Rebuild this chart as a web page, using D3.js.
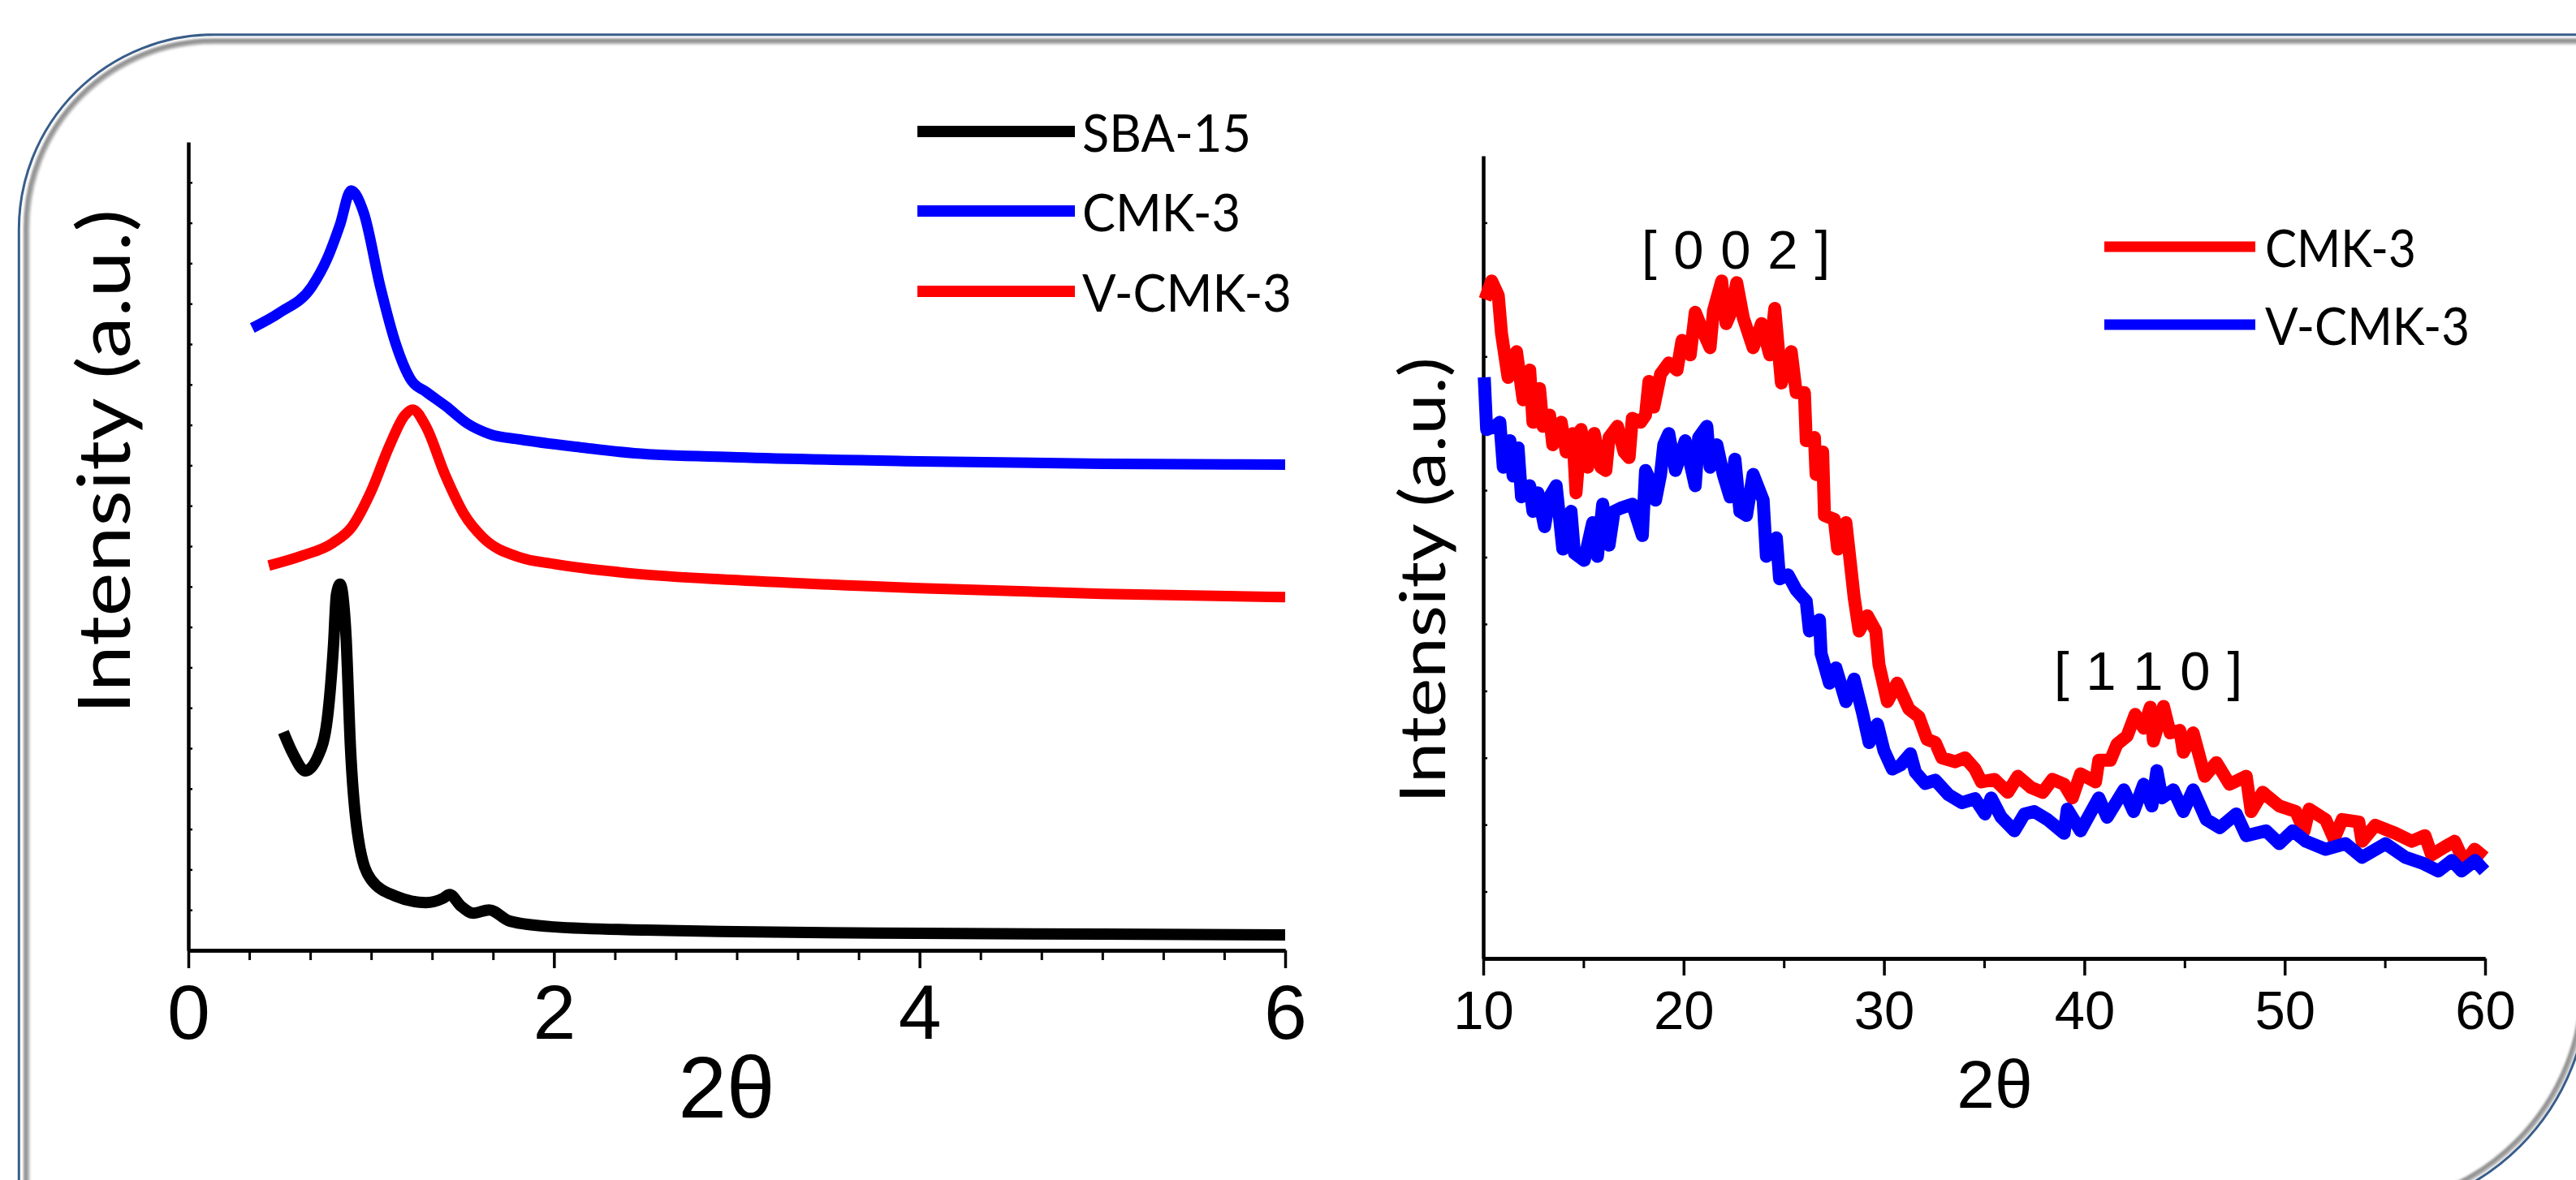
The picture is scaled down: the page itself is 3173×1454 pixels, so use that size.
<!DOCTYPE html>
<html><head><meta charset="utf-8">
<script src="https://cdn.jsdelivr.net/npm/d3@7"></script>
<style>
html,body{margin:0;padding:0;background:#fff;}
svg{display:block;}
</style></head><body>
<svg id="chart" width="3173" height="1454"></svg>
<script>
// ---------------- DATA ----------------
// Left panel (low-angle XRD)
const leftSeries = ["SBA-15", "CMK-3", "V-CMK-3"];
const leftColors = ["#000000", "#0000ff", "#ff0000"];
const leftXTicks = [0, 2, 4, 6];

const sbaX = [0.52, 0.573, 0.64, 0.709, 0.76, 0.794, 0.81, 0.83, 0.862, 0.887, 0.93, 0.998, 1.134, 1.30, 1.39, 1.43, 1.49, 1.56, 1.645, 1.76, 2.0, 2.5, 3.0, 4.0, 5.0, 6.0];
const sbaY = [27.0, 24.3, 22.2, 24.0, 28.6, 37.7, 44.0, 45.3, 39.1, 25.0, 13.8, 8.8, 6.7, 5.9, 6.4, 6.9, 5.5, 4.6, 5.0, 3.6, 2.9, 2.5, 2.3, 2.1, 2.0, 1.9];

const cmkLowX = [0.35, 0.50, 0.675, 0.76, 0.83, 0.89, 0.96, 1.05, 1.135, 1.22, 1.30, 1.41, 1.525, 1.645, 1.815, 2.155, 2.44, 3.0, 4.0, 5.0, 6.0];
const cmkLowY = [77.0, 78.9, 82.1, 85.6, 89.8, 94.0, 91.2, 82.1, 75.0, 70.5, 69.1, 67.3, 65.2, 63.9, 63.2, 62.2, 61.5, 61.0, 60.5, 60.2, 60.1];

const vcmkLowX = [0.44, 0.62, 0.79, 0.895, 0.998, 1.10, 1.184, 1.227, 1.30, 1.405, 1.51, 1.61, 1.815, 2.0, 2.44, 3.0, 4.0, 5.0, 6.0];
const vcmkLowY = [47.6, 48.8, 50.4, 52.4, 56.7, 62.4, 66.2, 66.9, 64.8, 58.8, 53.9, 51.1, 48.6, 47.8, 46.6, 45.8, 44.8, 44.1, 43.7];

// Right panel (wide-angle XRD)
const rightSeries = ["CMK-3", "V-CMK-3"];
const rightColors = ["#ff0000", "#0000ff"];
const rightXTicks = [10, 20, 30, 40, 50, 60];
const peakLabels = ["[ 0 0 2 ]", "[ 1 1 0 ]"];

const cmkWideX = [10.09, 10.42, 10.75, 10.91, 11.24, 11.66, 11.99, 12.32, 12.48, 12.81, 12.98, 13.31, 13.47, 13.89, 14.14, 14.47, 14.63, 14.88, 15.21, 15.54, 15.87, 16.12, 16.28, 16.70, 17.03, 17.28, 17.44, 17.85, 18.10, 18.27, 18.51, 18.85, 19.26, 19.67, 19.92, 20.33, 20.58, 21.00, 21.32, 21.49, 21.90, 22.12, 22.40, 22.65, 22.98, 23.47, 23.89, 24.30, 24.55, 24.88, 25.37, 25.62, 26.03, 26.12, 26.53, 26.61, 26.94, 27.03, 27.52, 27.69, 28.10, 28.51, 28.76, 29.17, 29.59, 29.75, 30.17, 30.66, 31.24, 31.74, 32.15, 32.56, 32.89, 33.55, 34.05, 34.54, 34.86, 35.52, 36.18, 36.68, 37.34, 37.92, 38.41, 38.99, 39.40, 39.81, 40.56, 40.72, 41.30, 41.63, 42.13, 42.54, 42.96, 43.29, 43.45, 43.95, 44.28, 44.77, 44.94, 45.43, 46.01, 46.59, 47.25, 48.08, 48.33, 48.90, 49.73, 50.56, 50.97, 51.22, 52.04, 52.46, 52.87, 53.70, 53.86, 54.52, 55.52, 56.34, 57.00, 57.33, 57.99, 58.48, 58.98, 59.48, 59.97];
const cmkWideY = [82.1, 84.4, 82.6, 77.9, 72.4, 75.6, 69.6, 73.3, 66.8, 71.0, 66.3, 67.7, 64.0, 66.8, 63.1, 65.4, 58.0, 65.9, 61.2, 65.4, 61.2, 60.8, 64.9, 66.3, 63.1, 62.4, 67.3, 66.8, 67.7, 71.9, 68.7, 72.8, 74.2, 73.3, 77.0, 75.2, 80.5, 77.9, 76.1, 80.7, 84.4, 79.1, 80.7, 84.2, 79.8, 76.1, 79.1, 75.2, 81.0, 71.7, 75.6, 70.5, 70.5, 64.5, 64.9, 60.3, 63.1, 55.2, 54.7, 51.0, 54.3, 45.0, 40.8, 42.7, 40.8, 36.6, 32.0, 34.3, 31.1, 30.1, 27.3, 26.9, 25.0, 24.5, 25.0, 23.6, 22.0, 22.3, 20.7, 22.7, 21.3, 20.7, 22.3, 21.7, 20.0, 23.0, 22.0, 24.7, 24.7, 26.7, 27.7, 30.4, 28.7, 31.3, 27.1, 31.4, 28.1, 28.4, 25.7, 28.1, 22.7, 24.4, 21.7, 22.7, 18.3, 20.7, 19.0, 18.3, 15.9, 18.6, 17.3, 14.9, 17.3, 17.0, 14.6, 16.6, 15.6, 14.6, 15.3, 12.9, 13.9, 14.6, 11.9, 13.6, 12.6];

const vcmkWideX = [10.05, 10.17, 10.58, 10.83, 11.00, 11.33, 11.49, 11.74, 11.91, 12.32, 12.48, 12.73, 13.06, 13.31, 13.64, 13.97, 14.38, 14.55, 15.04, 15.46, 15.70, 15.96, 16.28, 16.53, 16.86, 17.44, 17.94, 18.10, 18.35, 18.60, 18.85, 19.01, 19.26, 19.59, 20.08, 20.58, 20.75, 21.16, 21.32, 21.66, 21.98, 22.32, 22.56, 22.81, 23.14, 23.47, 23.97, 24.13, 24.63, 24.79, 25.21, 25.62, 26.12, 26.28, 26.78, 26.86, 27.28, 27.60, 28.10, 28.51, 28.93, 29.26, 29.67, 30.00, 30.42, 30.83, 31.32, 31.57, 32.06, 32.56, 33.22, 33.89, 34.54, 35.04, 35.35, 35.85, 36.51, 37.01, 37.50, 38.16, 38.99, 39.15, 39.81, 40.72, 41.14, 41.97, 42.46, 42.96, 43.37, 43.62, 43.87, 44.44, 44.94, 45.43, 46.09, 46.76, 47.58, 48.08, 49.07, 49.73, 50.40, 51.06, 52.04, 53.04, 53.86, 55.03, 56.02, 56.85, 57.67, 58.34, 58.83, 59.50, 59.97];
const vcmkWideY = [72.4, 65.9, 66.3, 66.8, 61.2, 64.5, 60.1, 63.6, 57.5, 58.9, 55.7, 58.0, 53.8, 57.5, 58.9, 51.0, 55.7, 50.5, 49.6, 54.3, 50.1, 56.6, 51.5, 55.7, 56.1, 56.6, 52.7, 60.8, 59.4, 57.1, 60.3, 64.0, 65.4, 60.8, 64.5, 58.9, 64.9, 66.3, 61.2, 64.0, 60.3, 57.5, 62.2, 55.7, 55.2, 60.3, 57.1, 50.1, 52.4, 47.3, 47.8, 45.9, 44.5, 40.8, 42.2, 38.0, 34.3, 36.2, 32.0, 34.8, 30.6, 26.9, 29.2, 25.9, 23.6, 24.1, 25.5, 23.2, 21.8, 22.2, 20.4, 19.4, 19.9, 18.0, 20.0, 17.6, 15.9, 18.0, 18.3, 17.3, 15.6, 18.6, 15.9, 20.0, 17.6, 21.0, 18.3, 21.7, 19.0, 23.4, 20.0, 21.0, 18.3, 21.0, 17.3, 16.3, 18.0, 15.3, 15.9, 14.3, 15.9, 14.6, 13.6, 14.3, 12.6, 14.3, 12.6, 11.9, 10.9, 12.2, 10.9, 12.2, 10.9];

// ---------------- DRAWING ----------------
const svg = d3.select("#chart");
const defs = svg.append("defs");
defs.append("filter").attr("id", "soft").attr("x", "-5%").attr("y", "-5%").attr("width", "110%").attr("height", "110%")
  .append("feGaussianBlur").attr("stdDeviation", 1.6);

function framePath(l, t, r, b, r1, r2) {
  return `M${l},${b} L${l},${t + r1} A${r1},${r1} 0 0 1 ${l + r1},${t} L${r},${t} L${r},${b - r2} A${r2},${r2} 0 0 1 ${r - r2},${b} Z`;
}
svg.append("path").attr("d", framePath(33, 51, 3183, 1489, 230, 281))
  .attr("fill", "none").attr("stroke", "#b5b5b5").attr("stroke-width", 7).attr("filter", "url(#soft)");
svg.append("path").attr("d", framePath(31.5, 50, 3181, 1488, 231, 279))
  .attr("fill", "none").attr("stroke", "#8a8a8a").attr("stroke-width", 3.5).attr("filter", "url(#soft)");
svg.append("path").attr("d", framePath(23.3, 42.7, 3188, 1496, 240, 286))
  .attr("fill", "none").attr("stroke", "#385d8a").attr("stroke-width", 3);

const FONT_ARIAL = "'Liberation Sans', Arial, sans-serif";
const FONT_CAL = "Lato, 'Open Sans', sans-serif";

function styleAxis(g, domainW, tickW) {
  g.attr("font-family", FONT_ARIAL).attr("font-size", null);
  g.select(".domain").attr("stroke", "#000").attr("stroke-width", domainW);
  g.selectAll(".tick line").attr("stroke", "#000").attr("stroke-width", tickW);
}

// ---- Left panel ----
const xL = d3.scaleLinear().domain([0, 6]).range([232, 1583]);
const yL = d3.scaleLinear().domain([0, 100]).range([1171, 175]);

const gyL = svg.append("g").attr("transform", "translate(232,0)")
  .call(d3.axisRight(yL).tickValues(d3.range(5, 100, 5)).tickSize(5).tickSizeOuter(0).tickFormat(""));
styleAxis(gyL, 4.5, 2.5);

const minorL = d3.range(0, 19).map(i => i * 6 / 18).filter(v => Math.abs(v / 2 - Math.round(v / 2)) > 1e-6);
const gxLm = svg.append("g").attr("transform", "translate(0,1171)")
  .call(d3.axisBottom(xL).tickValues(minorL).tickSize(12).tickSizeOuter(0).tickFormat(""));
styleAxis(gxLm, 4.5, 3);
const gxL = svg.append("g").attr("transform", "translate(0,1171)")
  .call(d3.axisBottom(xL).tickValues(leftXTicks).tickSize(22).tickSizeOuter(0).tickFormat(d3.format("d")));
styleAxis(gxL, 4.5, 3.5);
gxL.selectAll(".tick text").attr("y", 109).attr("dy", 0).attr("font-size", 95).attr("fill", "#000");

svg.append("text").attr("x", 895).attr("y", 1377).attr("text-anchor", "middle")
  .attr("font-family", FONT_ARIAL).attr("font-size", 107).text("2θ");

svg.append("text").attr("transform", "translate(160,569) rotate(-90)").attr("text-anchor", "middle")
  .attr("font-family", FONT_CAL).attr("font-size", 90)
  .attr("textLength", 622).attr("lengthAdjust", "spacingAndGlyphs").text("Intensity (a.u.)");

const lineL = d3.line().x(d => xL(d[0])).y(d => yL(d[1])).curve(d3.curveMonotoneX);
const leftData = [d3.zip(sbaX, sbaY), d3.zip(cmkLowX, cmkLowY), d3.zip(vcmkLowX, vcmkLowY)];
const leftWidths = [14, 13, 13];
leftData.forEach((dat, i) => {
  svg.append("path").datum(dat).attr("d", lineL).attr("fill", "none")
    .attr("stroke", leftColors[i]).attr("stroke-width", leftWidths[i])
    .attr("stroke-linejoin", "round").attr("stroke-linecap", "butt");
});

// Left legend
const legLy = [162, 260, 359];
const legLlen = [208, 195, 258];
leftSeries.forEach((s, i) => {
  svg.append("line").attr("x1", 1130).attr("x2", 1324).attr("y1", legLy[i]).attr("y2", legLy[i])
    .attr("stroke", leftColors[i]).attr("stroke-width", 14);
  svg.append("text").attr("x", 1333).attr("y", legLy[i] + 25)
    .attr("font-family", FONT_CAL).attr("font-size", 64)
    .attr("textLength", legLlen[i]).attr("lengthAdjust", "spacingAndGlyphs").text(s);
});

// ---- Right panel ----
const xR = d3.scaleLinear().domain([10, 60]).range([1827, 3061]);
const yR = d3.scaleLinear().domain([0, 100]).range([1181, 192]);

const gyR = svg.append("g").attr("transform", "translate(1827,0)")
  .call(d3.axisRight(yR).tickValues(d3.range(1, 12).map(i => i * 100 / 12)).tickSize(5).tickSizeOuter(0).tickFormat(""));
styleAxis(gyR, 4.5, 2.5);

const gxRm = svg.append("g").attr("transform", "translate(0,1181)")
  .call(d3.axisBottom(xR).tickValues([15, 25, 35, 45, 55]).tickSize(12).tickSizeOuter(0).tickFormat(""));
styleAxis(gxRm, 4.5, 3);
const gxR = svg.append("g").attr("transform", "translate(0,1181)")
  .call(d3.axisBottom(xR).tickValues(rightXTicks).tickSize(21).tickSizeOuter(0).tickFormat(d3.format("d")));
styleAxis(gxR, 4.5, 3.5);
gxR.selectAll(".tick text").attr("y", 87).attr("dy", 0).attr("font-size", 67).attr("fill", "#000");

svg.append("text").attr("x", 2457).attr("y", 1365).attr("text-anchor", "middle")
  .attr("font-family", FONT_ARIAL).attr("font-size", 84).text("2θ");

svg.append("text").attr("transform", "translate(1780,715) rotate(-90)").attr("text-anchor", "middle")
  .attr("font-family", FONT_CAL).attr("font-size", 78)
  .attr("textLength", 550).attr("lengthAdjust", "spacingAndGlyphs").text("Intensity (a.u.)");

const lineR = d3.line().x(d => xR(d[0])).y(d => yR(d[1]));
const rightData = [d3.zip(cmkWideX, cmkWideY), d3.zip(vcmkWideX, vcmkWideY)];
rightData.forEach((dat, i) => {
  svg.append("path").datum(dat).attr("d", lineR).attr("fill", "none")
    .attr("stroke", rightColors[i]).attr("stroke-width", 16)
    .attr("stroke-linejoin", "round").attr("stroke-linecap", "butt");
});

// Peak annotations
const peakPos = [[2138, 331], [2646, 850]];
peakLabels.forEach((t, i) => {
  svg.append("text").attr("x", peakPos[i][0]).attr("y", peakPos[i][1]).attr("text-anchor", "middle")
    .attr("font-family", FONT_ARIAL).attr("font-size", 67)
    .attr("textLength", 232).attr("lengthAdjust", "spacing").text(t);
});

// Right legend
const legRy = [304, 400];
const legRlen = [186, 252];
rightSeries.forEach((s, i) => {
  svg.append("line").attr("x1", 2592).attr("x2", 2778).attr("y1", legRy[i]).attr("y2", legRy[i])
    .attr("stroke", rightColors[i]).attr("stroke-width", 13);
  svg.append("text").attr("x", 2790).attr("y", legRy[i] + 25)
    .attr("font-family", FONT_CAL).attr("font-size", 64)
    .attr("textLength", legRlen[i]).attr("lengthAdjust", "spacingAndGlyphs").text(s);
});
</script>
</body></html>
